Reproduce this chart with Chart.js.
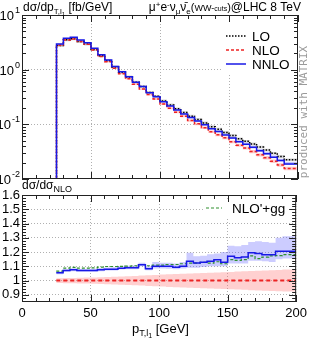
<!DOCTYPE html>
<html>
<head>
<meta charset="utf-8">
<script src="https://cdn.jsdelivr.net/npm/chart.js@4"></script>
<style>
body { margin: 0; background: #fff; }
#wrap { position: relative; width: 311px; height: 340px; }
canvas { position: absolute; left: 0; top: 0; }
</style>
</head>
<body>
<div id="wrap">
<canvas id="topChart" width="311" height="340"></canvas>
<canvas id="ratioChart" width="311" height="340"></canvas>
</div>
<script>
// bin edges in p_T,l1 [GeV], 5 GeV bins
const binEdges = [25, 30, 35, 40, 45, 50, 55, 60, 65, 70, 75, 80, 85, 90, 95, 100, 105, 110, 115, 120,
  125, 130, 135, 140, 145, 150, 155, 160, 165, 170, 175, 180, 185, 190, 195, 200];

// dsigma/dpT [fb/GeV]
const loXs = [1.51, 2.77, 3.53, 3.68, 3.28, 2.95, 2.34, 1.80, 1.46, 1.12, 0.90, 0.738, 0.59, 0.49, 0.384,
  0.326, 0.268, 0.226, 0.192, 0.164, 0.141, 0.123, 0.106, 0.0905, 0.0814, 0.071, 0.0627, 0.0542, 0.049,
  0.0437, 0.0383, 0.0339, 0.0295, 0.0259, 0.0224];
const nloXs = [1.53, 2.80, 3.50, 3.64, 3.26, 2.91, 2.30, 1.75, 1.40, 1.06, 0.846, 0.683, 0.541, 0.441, 0.351,
  0.291, 0.236, 0.197, 0.167, 0.141, 0.117, 0.102, 0.0869, 0.0731, 0.0645, 0.0567, 0.0479, 0.0414, 0.0369,
  0.0318, 0.0277, 0.0245, 0.0212, 0.0181, 0.0156];
const nnloXs = [1.61, 2.95, 3.75, 3.92, 3.49, 3.12, 2.46, 1.88, 1.51, 1.14, 0.92, 0.745, 0.59, 0.49, 0.38,
  0.32, 0.26, 0.217, 0.183, 0.155, 0.133, 0.115, 0.098, 0.083, 0.074, 0.064, 0.056, 0.048, 0.043,
  0.038, 0.033, 0.029, 0.025, 0.0218, 0.0188];

// ratios to NLO
const nnloRatio = [1.055, 1.055, 1.071, 1.076, 1.071, 1.071, 1.071, 1.076, 1.08, 1.08, 1.087, 1.09, 1.09, 1.111,
  1.083, 1.1, 1.1, 1.1, 1.094, 1.1, 1.135, 1.123, 1.128, 1.135, 1.147, 1.128, 1.17, 1.16, 1.165, 1.196,
  1.19, 1.182, 1.182, 1.206, 1.206];
const nnloRatioUp = [1.065, 1.065, 1.08, 1.086, 1.082, 1.082, 1.083, 1.088, 1.092, 1.093, 1.1, 1.104, 1.105, 1.125,
  1.1, 1.13, 1.125, 1.125, 1.12, 1.13, 1.195, 1.17, 1.175, 1.185, 1.19, 1.2, 1.245, 1.24, 1.25, 1.27,
  1.275, 1.27, 1.265, 1.3, 1.31];
const nnloRatioDown = [1.045, 1.045, 1.062, 1.066, 1.062, 1.062, 1.062, 1.066, 1.07, 1.07, 1.077, 1.08, 1.08, 1.1,
  1.073, 1.085, 1.085, 1.083, 1.08, 1.085, 1.09, 1.09, 1.095, 1.1, 1.1, 1.1, 1.12, 1.12, 1.12, 1.14,
  1.14, 1.135, 1.13, 1.15, 1.155];
const nloRatioUp = [1.015, 1.016, 1.018, 1.019, 1.02, 1.021, 1.022, 1.024, 1.026, 1.027, 1.029, 1.031, 1.033, 1.035,
  1.037, 1.04, 1.042, 1.044, 1.046, 1.048, 1.05, 1.052, 1.053, 1.055, 1.057, 1.059, 1.061, 1.063, 1.065,
  1.067, 1.069, 1.071, 1.073, 1.075, 1.077];
const nloRatioDown = [0.985, 0.984, 0.982, 0.981, 0.98, 0.979, 0.978, 0.976, 0.974, 0.973, 0.971, 0.969, 0.967, 0.965,
  0.963, 0.96, 0.958, 0.956, 0.954, 0.952, 0.95, 0.948, 0.947, 0.945, 0.943, 0.941, 0.939, 0.937, 0.935,
  0.933, 0.931, 0.929, 0.927, 0.925, 0.923];
const nlopggRatio = [1.066, 1.066, 1.087, 1.092, 1.087, 1.087, 1.089, 1.094, 1.099, 1.099, 1.1, 1.102, 1.104, 1.113,
  1.104, 1.109, 1.109, 1.113, 1.113, 1.118, 1.123, 1.123, 1.128, 1.123, 1.132, 1.118, 1.147, 1.142, 1.147,
  1.173, 1.154, 1.165, 1.173, 1.175, 1.182];

const LO_BAND = 0.06;

const FONT = '"Liberation Sans", Arial, sans-serif';
const BLUE = '#1818e6';
const RED = '#ee2222';
const GREEN = '#2e8f2e';

// histogram points for a stepped line
function steps(vals, drop) {
  const pts = binEdges.map((e, i) => ({ x: e, y: vals[Math.min(i, vals.length - 1)] }));
  if (drop) pts.unshift({ x: binEdges[0], y: drop });
  return pts;
}

function line(vals, color, dash, width, order, drop) {
  return {
    data: steps(vals, drop), stepped: 'after', borderColor: color, borderDash: dash,
    borderWidth: width, pointRadius: 0, fill: false, order: order
  };
}

function band(up, down, color, order) {
  return [
    { data: steps(up), stepped: 'after', borderWidth: 0, pointRadius: 0, backgroundColor: color, fill: '+1', order: order },
    { data: steps(down), stepped: 'after', borderWidth: 0, pointRadius: 0, fill: false, order: order }
  ];
}

function richText(ctx, x, y, parts, align) {
  let w = 0;
  parts.forEach(p => { ctx.font = p[1] + 'px ' + FONT; w += ctx.measureText(p[0]).width; });
  let cx = align === 'right' ? x - w : x;
  parts.forEach(p => {
    ctx.font = p[1] + 'px ' + FONT;
    ctx.fillText(p[0], cx, y + (p[2] || 0));
    cx += ctx.measureText(p[0]).width;
  });
}

function drawFrame(chart, yTicks) {
  const { ctx, chartArea: a, scales } = chart;
  ctx.save();
  ctx.strokeStyle = '#222';
  ctx.lineWidth = 1;
  ctx.strokeRect(a.left + 0.5, a.top + 0.5, a.right - a.left - 1, a.bottom - a.top - 1);
  ctx.beginPath();
  for (let v = 0; v <= 200; v += 10) {
    const px = Math.round(scales.x.getPixelForValue(v)) + 0.5;
    const len = v % 50 === 0 ? 7 : 4;
    ctx.moveTo(px, a.bottom); ctx.lineTo(px, a.bottom - len);
    ctx.moveTo(px, a.top); ctx.lineTo(px, a.top + len);
  }
  yTicks.forEach(t => {
    const py = Math.round(scales.y.getPixelForValue(t.v)) + 0.5;
    const len = t.major ? 7 : 4;
    ctx.moveTo(a.left, py); ctx.lineTo(a.left + len, py);
    ctx.moveTo(a.right, py); ctx.lineTo(a.right - len, py);
  });
  ctx.stroke();
  ctx.restore();
}

const gridX = {
  color: c => [50, 100, 150].includes(c.tick.value) ? '#b0b0b0' : 'transparent',
  drawTicks: false
};

const logTicks = [];
[-2, -1, 0].forEach(d => {
  for (let k = 1; k <= 9; k++) logTicks.push({ v: k * Math.pow(10, d), major: k === 1 });
});
logTicks.push({ v: 10, major: true });

const ratioTicks = [];
for (let i = 43; i <= 80; i++) ratioTicks.push({ v: i / 50, major: i % 5 === 0 });

const topDecor = {
  id: 'topDecor',
  beforeDatasetsDraw(chart) {
    const ctx = chart.ctx;
    ctx.save();
    ctx.fillStyle = '#fff';
    ctx.fillRect(222, 17, 74, 56);
    ctx.restore();
  },
  afterDraw(chart) {
    const { ctx, chartArea: a, scales } = chart;
    drawFrame(chart, logTicks);
    ctx.save();
    ctx.fillStyle = '#000';
    ctx.textBaseline = 'alphabetic';
    // log labels
    [1, 0, -1, -2].forEach(e => {
      const py = scales.y.getPixelForValue(Math.pow(10, e));
      ctx.font = '9px ' + FONT;
      const ew = ctx.measureText(String(e)).width;
      ctx.fillText(String(e), a.left - 2 - ew, py - 2);
      ctx.font = '13px ' + FONT;
      const bw = ctx.measureText('10').width;
      ctx.fillText('10', a.left - 3 - ew - bw, py + 5);
    });
    // titles
    ctx.fillStyle = '#000';
    richText(ctx, 23, 11, [['dσ/dp', 12], ['T,l', 8, 3], ['1', 6, 5], [' [fb/GeV]', 12]]);
    richText(ctx, 301, 11, [['μ', 12], ['+', 8, -4], ['e', 12], ['-', 8, -4], ['ν', 12], ['μ', 8, 3],
      ['ν\u0304', 12], ['e', 8, 3], ['(', 11], ['WW-', 9], ['cuts', 7], [')', 11], ['@LHC 8 TeV', 12]], 'right');
    // legend
    const entries = [
      { label: 'LO', y: 36, color: '#000', dash: [1.5, 1.5] },
      { label: 'NLO', y: 50, color: RED, dash: [3, 2] },
      { label: 'NNLO', y: 64, color: BLUE, dash: [] }
    ];
    entries.forEach(en => {
      ctx.beginPath();
      ctx.strokeStyle = en.color;
      ctx.lineWidth = 1.5;
      ctx.setLineDash(en.dash);
      ctx.moveTo(226, en.y); ctx.lineTo(246, en.y);
      ctx.stroke();
      ctx.setLineDash([]);
      ctx.font = '13.5px ' + FONT;
      ctx.textBaseline = 'middle';
      ctx.fillText(en.label, 252, en.y + 1);
    });
    // watermark
    ctx.translate(304, 112);
    ctx.rotate(-Math.PI / 2);
    ctx.textAlign = 'center';
    ctx.textBaseline = 'middle';
    ctx.fillStyle = '#9a9a9a';
    ctx.font = '11px "DejaVu Sans Mono", monospace';
    ctx.fillText('produced with MATRIX', 0, 0);
    ctx.restore();
  }
};

const ratioDecor = {
  id: 'ratioDecor',
  beforeDatasetsDraw(chart) {
    const ctx = chart.ctx;
    ctx.save();
    ctx.fillStyle = '#fff';
    ctx.fillRect(203, 200, 93, 17);
    ctx.restore();
  },
  afterDraw(chart) {
    const ctx = chart.ctx;
    drawFrame(chart, ratioTicks);
    ctx.save();
    ctx.fillStyle = '#000';
    ctx.textBaseline = 'alphabetic';
    richText(ctx, 22, 189, [['dσ/dσ', 12], ['NLO', 9, 3]]);
    richText(ctx, 132, 333, [['p', 13], ['T,l', 9, 3], ['1', 7, 5], [' [GeV]', 13]]);
    ctx.beginPath();
    ctx.strokeStyle = GREEN;
    ctx.lineWidth = 1.2;
    ctx.setLineDash([3, 2]);
    ctx.moveTo(206, 208); ctx.lineTo(222, 208);
    ctx.stroke();
    ctx.setLineDash([]);
    ctx.font = '13.5px ' + FONT;
    ctx.textBaseline = 'middle';
    ctx.fillText("NLO'+gg", 232, 209);
    ctx.restore();
  }
};

const baseOptions = {
  responsive: false,
  animation: false,
  events: [],
  plugins: { legend: { display: false }, tooltip: { enabled: false } }
};

// top panel: absolute distributions
const nnloTopUp = nloXs.map((v, i) => v * nnloRatioUp[i]);
const nnloTopDown = nloXs.map((v, i) => v * nnloRatioDown[i]);
const nloTopUp = nloXs.map((v, i) => v * nloRatioUp[i]);
const nloTopDown = nloXs.map((v, i) => v * nloRatioDown[i]);
const loTopUp = loXs.map(v => v * (1 + LO_BAND));
const loTopDown = loXs.map(v => v * (1 - LO_BAND));

new Chart(document.getElementById('topChart'), {
  type: 'line',
  data: {
    datasets: [
      ...band(loTopUp, loTopDown, 'rgba(140,140,140,0.35)', 6),
      ...band(nloTopUp, nloTopDown, 'rgba(255,120,120,0.4)', 5),
      ...band(nnloTopUp, nnloTopDown, 'rgba(110,110,255,0.4)', 4),
      line(loXs, '#000', [1.5, 1.5], 1.5, 3, 1e-4),
      line(nloXs, RED, [3, 2], 1.5, 2, 1e-4),
      line(nnloXs, BLUE, [], 1.5, 1, 1e-4)
    ]
  },
  options: {
    ...baseOptions,
    layout: { padding: { top: 15, right: 13, left: 0, bottom: 0 } },
    scales: {
      x: {
        type: 'linear', min: 0, max: 200,
        ticks: { display: false, stepSize: 50 },
        grid: gridX,
        border: { display: false, dash: [1, 2] },
        afterFit: s => { s.height = 161; }
      },
      y: {
        type: 'logarithmic', min: 0.01, max: 10,
        ticks: { display: false },
        afterBuildTicks: s => { s.ticks = [0.01, 0.1, 1, 10].map(v => ({ value: v })); },
        grid: {
          color: c => (c.tick.value === 0.1 || c.tick.value === 1) ? '#b0b0b0' : 'transparent',
          drawTicks: false
        },
        border: { display: false, dash: [1, 2] },
        afterFit: s => { s.width = 22; }
      }
    }
  },
  plugins: [topDecor]
});

// bottom panel: ratio to NLO
const nloRatio = nloXs.map(v => v / v);

new Chart(document.getElementById('ratioChart'), {
  type: 'line',
  data: {
    datasets: [
      ...band(nloRatioUp, nloRatioDown, 'rgba(255,120,120,0.35)', 6),
      ...band(nnloRatioUp, nnloRatioDown, 'rgba(110,110,255,0.35)', 5),
      line(nloRatio, RED, [4, 3], 2, 3),
      line(nlopggRatio, GREEN, [3, 2], 1.2, 2),
      line(nnloRatio, BLUE, [], 1.5, 1)
    ]
  },
  options: {
    ...baseOptions,
    layout: { padding: { top: 195, right: 13, left: 0, bottom: 0 } },
    scales: {
      x: {
        type: 'linear', min: 0, max: 200,
        ticks: {
          stepSize: 50, autoSkip: false, maxRotation: 0, padding: 4, color: '#000',
          font: { size: 13, family: FONT }
        },
        grid: gridX,
        border: { display: false, dash: [1, 2] },
        afterFit: s => { s.height = 38; }
      },
      y: {
        type: 'linear', min: 0.85, max: 1.6,
        ticks: {
          autoSkip: false, padding: 2, color: '#000', font: { size: 13, family: FONT },
          callback: v => String(Math.round(v * 10) / 10)
        },
        afterBuildTicks: s => {
          s.ticks = [0.9, 1.0, 1.1, 1.2, 1.3, 1.4, 1.5, 1.6].map(v => ({ value: v }));
        },
        grid: {
          color: c => c.tick.value < 1.55 ? '#b0b0b0' : 'transparent',
          drawTicks: false
        },
        border: { display: false, dash: [1, 2] },
        afterFit: s => { s.width = 22; }
      }
    }
  },
  plugins: [ratioDecor]
});
</script>
</body>
</html>
